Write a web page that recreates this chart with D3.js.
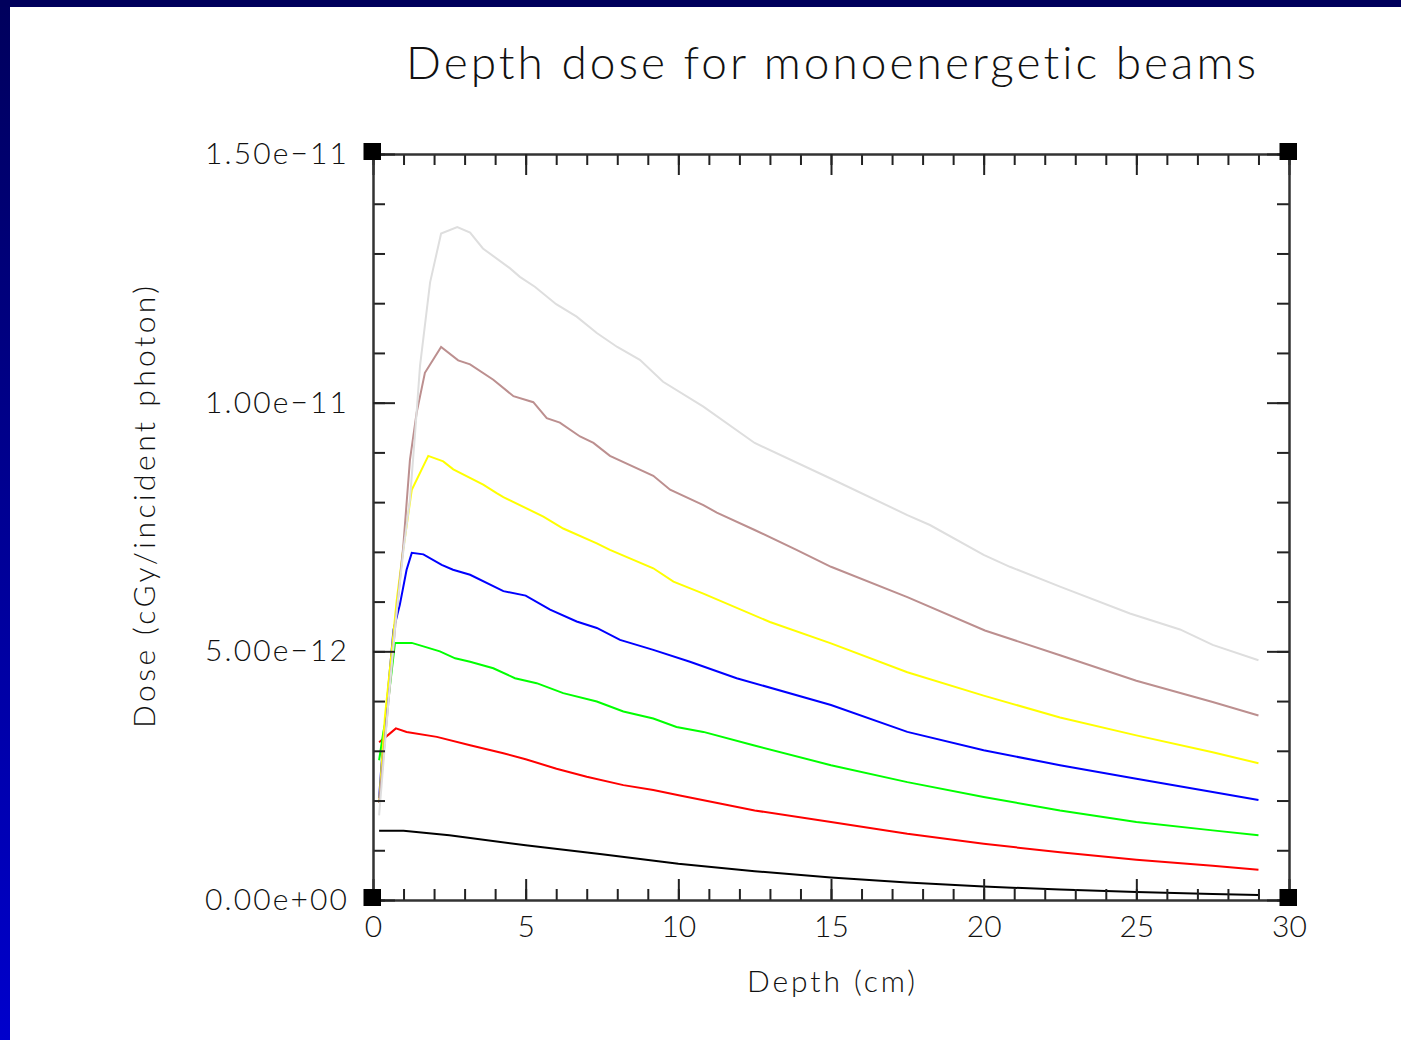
<!DOCTYPE html>
<html>
<head>
<meta charset="utf-8">
<script src="https://cdn.jsdelivr.net/npm/d3@7"></script>
<style>
  body { margin: 0; background: #fff; }
  svg text { font-family: Lato, "DejaVu Sans", sans-serif; font-weight: 300; fill: #111;
    font-variant-ligatures: none; font-feature-settings: "liga" 0, "dlig" 0; }
</style>
</head>
<body>
<div id="chart"></div>
<script>
// depth (cm) vs dose (units of 1e-12 cGy/incident photon)
const beam1 = [[0.2,1.39],[1.0,1.39],[2.5,1.3],[5,1.1],[7.5,0.92],[10,0.73],[12.5,0.58],[15,0.45],
  [17.5,0.35],[20,0.27],[22.5,0.21],[25,0.16],[27.5,0.12],[29,0.1]];
const beam2 = [[0.2,3.17],[0.5,3.32],[0.75,3.45],[1.1,3.38],[2.09,3.28],[3.18,3.11],[4.27,2.95],[5.0,2.83],
  [6.01,2.64],[7.0,2.48],[8.2,2.31],[9.18,2.21],[10.05,2.1],[11.36,1.94],[12.5,1.8],[15,1.57],
  [17.5,1.33],[20,1.13],[22.5,0.96],[25,0.81],[27.5,0.69],[29,0.61]];
const beam3 = [[0.2,2.81],[0.34,3.38],[0.43,3.65],[0.72,5.17],[1.27,5.17],[1.65,5.1],[2.19,5.0],[2.69,4.86],
  [3.18,4.79],[3.94,4.66],[4.65,4.46],[5.36,4.36],[6.23,4.16],[7.33,3.99],[8.2,3.79],[9.18,3.65],
  [9.94,3.48],[10.82,3.38],[12.46,3.11],[15,2.71],[17.5,2.37],[20,2.07],[22.5,1.8],[25,1.57],
  [27.5,1.4],[29,1.3]];
const beam4 = [[0.2,2.05],[0.28,2.74],[0.67,5.43],[0.88,5.94],[1.1,6.64],[1.27,6.98],[1.65,6.95],[2.25,6.74],
  [2.62,6.64],[3.18,6.54],[4.27,6.21],[5.0,6.12],[5.8,5.84],[6.67,5.6],[7.33,5.47],[8.09,5.23],
  [9.18,5.03],[10.38,4.79],[11.91,4.46],[15,3.92],[17.5,3.38],[20,3.01],[22.5,2.71],[25,2.44],
  [27.5,2.17],[29,2.01]];
const beam5 = [[0.2,1.95],[0.39,3.68],[0.56,4.69],[0.78,6.04],[0.99,7.05],[1.27,8.25],[1.81,8.93],[2.3,8.82],
  [2.63,8.66],[3.61,8.35],[4.05,8.18],[4.27,8.1],[5.58,7.71],[6.23,7.47],[7.33,7.17],[7.76,7.04],
  [9.18,6.67],[9.84,6.4],[10.82,6.16],[13.0,5.59],[15,5.16],[17.5,4.58],[20,4.11],[22.5,3.67],
  [25,3.31],[27.5,2.97],[29,2.75]];
const beam6 = [[0.2,1.95],[0.5,3.95],[0.75,5.65],[0.99,7.1],[1.21,8.85],[1.43,9.8],[1.7,10.6],[2.23,11.12],
  [2.79,10.85],[3.18,10.77],[3.94,10.46],[4.6,10.13],[5.25,10.01],[5.69,9.69],[6.12,9.6],[6.78,9.32],
  [7.22,9.19],[7.76,8.93],[9.18,8.53],[9.73,8.25],[10.82,7.94],[11.26,7.79],[12.5,7.44],[13.87,7.04],
  [15,6.7],[17.5,6.09],[20.04,5.42],[22.5,4.92],[25,4.41],[27.5,3.98],[29,3.71]];
const beam7 = [[0.2,1.7],[0.5,3.95],[0.75,5.65],[1.0,7.05],[1.21,8.05],[1.38,9.4],[1.54,10.74],[1.87,12.42],
  [2.23,13.4],[2.76,13.53],[3.18,13.42],[3.6,13.1],[4.49,12.7],[4.81,12.53],[5.3,12.33],[6.0,11.98],
  [6.67,11.73],[7.33,11.4],[8.0,11.12],[8.74,10.86],[9.5,10.42],[10.82,9.92],[12.5,9.19],[14.97,8.48],
  [17.5,7.74],[18.24,7.54],[20,6.94],[20.86,6.7],[22.5,6.3],[24.79,5.76],[26.43,5.44],[27.5,5.13],[29,4.82]];

const beams = [beam1, beam2, beam3, beam4, beam5, beam6, beam7];
const beamColors = ['#000000', '#ff0000', '#00ff00', '#0000ff', '#ffff00', '#bc8f8f', '#dedede'];

const xMajorTicks = [0, 5, 10, 15, 20, 25, 30];
const xMinorTicks = d3.range(0, 31, 1);
const yMajorTicks = [0, 5, 10, 15];
const yMinorTicks = d3.range(0, 16, 1);
const yTickLabels = ['0.00e+00', '5.00e\u221212', '1.00e\u221211', '1.50e\u221211'];

const width = 1401, height = 1040;
const margin = {top: 154, right: 112, bottom: 140, left: 373};
const plotW = width - margin.left - margin.right;
const plotH = height - margin.top - margin.bottom;

const svg = d3.select('#chart').append('svg')
  .attr('width', width).attr('height', height);

// slide frame
const defs = svg.append('defs');
const grad = defs.append('linearGradient').attr('id', 'sideGrad')
  .attr('x1', 0).attr('y1', 0).attr('x2', 0).attr('y2', 1);
grad.append('stop').attr('offset', '0%').attr('stop-color', '#00005c');
grad.append('stop').attr('offset', '100%').attr('stop-color', '#0000cc');

svg.append('rect').attr('width', width).attr('height', height).attr('fill', '#fff');
svg.append('rect').attr('width', 10).attr('height', height).attr('fill', 'url(#sideGrad)');
svg.append('rect').attr('width', width).attr('height', 7).attr('fill', '#00005c');

const xScale = d3.scaleLinear().domain([0, 30]).range([0, plotW]);
const yScale = d3.scaleLinear().domain([0, 15]).range([plotH, 0]);

const g = svg.append('g').attr('transform', `translate(${margin.left},${margin.top})`);

// curves
const line = d3.line().x(d => xScale(d[0])).y(d => yScale(d[1]));
g.selectAll('.beam')
  .data(beams)
  .join('path')
  .attr('class', 'beam')
  .attr('fill', 'none')
  .attr('stroke', (d, i) => beamColors[i])
  .attr('stroke-width', 2)
  .attr('d', line);

// axes, ticks pointing inward on all four sides
function styleAxis(sel) {
  sel.selectAll('path.domain').attr('stroke', '#333').attr('stroke-width', 2);
  sel.selectAll('.tick line').attr('stroke', '#222').attr('stroke-width', 2);
  sel.selectAll('.tick text').attr('font-family', 'Lato, "DejaVu Sans", sans-serif')
    .attr('font-weight', 300).attr('font-size', 30).attr('fill', '#111');
}

g.append('g').attr('transform', `translate(0,${plotH})`)
  .call(d3.axisBottom(xScale).tickValues(xMinorTicks).tickSizeInner(-11).tickSizeOuter(0).tickFormat(''))
  .call(styleAxis);
g.append('g').attr('transform', `translate(0,${plotH})`)
  .call(d3.axisBottom(xScale).tickValues(xMajorTicks).tickSizeInner(-21).tickSizeOuter(0)
    .tickPadding(16).tickFormat(d3.format('d')))
  .call(styleAxis);

g.append('g')
  .call(d3.axisTop(xScale).tickValues(xMinorTicks).tickSizeInner(-11).tickSizeOuter(0).tickFormat(''))
  .call(styleAxis);
g.append('g')
  .call(d3.axisTop(xScale).tickValues(xMajorTicks).tickSizeInner(-21).tickSizeOuter(0).tickFormat(''))
  .call(styleAxis);

g.append('g')
  .call(d3.axisLeft(yScale).tickValues(yMinorTicks).tickSizeInner(-12).tickSizeOuter(0).tickFormat(''))
  .call(styleAxis);
g.append('g')
  .call(d3.axisLeft(yScale).tickValues(yMajorTicks).tickSizeInner(-22).tickSizeOuter(0)
    .tickPadding(26).tickFormat((d, i) => yTickLabels[i]))
  .call(styleAxis)
  .call(a => a.selectAll('.tick text').attr('textLength', 142).attr('lengthAdjust', 'spacing'));

g.append('g').attr('transform', `translate(${plotW},0)`)
  .call(d3.axisRight(yScale).tickValues(yMinorTicks).tickSizeInner(-12).tickSizeOuter(0).tickFormat(''))
  .call(styleAxis);
g.append('g').attr('transform', `translate(${plotW},0)`)
  .call(d3.axisRight(yScale).tickValues(yMajorTicks).tickSizeInner(-22).tickSizeOuter(0).tickFormat(''))
  .call(styleAxis);

// corner markers
const corners = [[0, 0], [30, 0], [0, 15], [30, 15]];
g.selectAll('.corner')
  .data(corners)
  .join('rect')
  .attr('class', 'corner')
  .attr('x', d => xScale(d[0]) - 9.5)
  .attr('y', d => yScale(d[1]) - 11)
  .attr('width', 17.5).attr('height', 17)
  .attr('fill', '#000');

// titles
svg.append('text')
  .attr('x', 831).attr('y', 79)
  .attr('text-anchor', 'middle')
  .attr('font-size', 46)
  .attr('textLength', 850).attr('lengthAdjust', 'spacing')
  .text('Depth dose for monoenergetic beams');

svg.append('text')
  .attr('x', margin.left + plotW / 2).attr('y', 992)
  .attr('text-anchor', 'middle')
  .attr('font-size', 30)
  .attr('textLength', 168).attr('lengthAdjust', 'spacing')
  .text('Depth (cm)');

svg.append('text')
  .attr('transform', 'translate(155,507) rotate(-90)')
  .attr('text-anchor', 'middle')
  .attr('font-size', 30)
  .attr('textLength', 442).attr('lengthAdjust', 'spacing')
  .text('Dose (cGy/incident photon)');
</script>
</body>
</html>
